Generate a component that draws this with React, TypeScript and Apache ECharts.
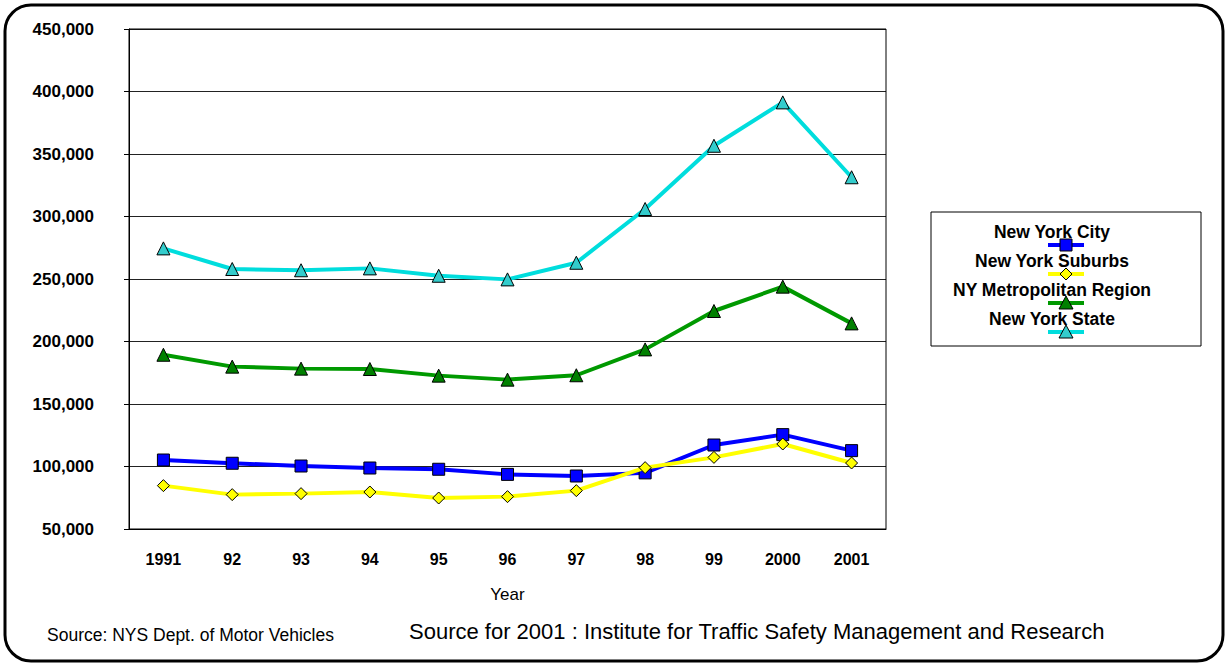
import React, { useEffect, useRef } from "react";
import * as echarts from "echarts";

const categories = ["1991", "92", "93", "94", "95", "96", "97", "98", "99", "2000", "2001"];
const nycValues = [105200, 102600, 100400, 98800, 97800, 93700, 92400, 94900, 117200, 125500, 112700];
const suburbsValues = [84700, 77500, 78300, 79600, 74800, 75900, 80700, 99100, 107300, 118000, 102800];
const metroValues = [189400, 179900, 178300, 178000, 172700, 169500, 173000, 193700, 224400, 243900, 214500];
const stateValues = [274500, 258000, 257000, 258500, 252600, 249700, 263000, 306000, 356600, 391300, 331400];
const seriesNames = ["New York City", "New York Suburbs", "NY Metropolitan Region", "New York State"];

const FONT = "'Liberation Sans', Arial, sans-serif";

export default function App() {
  const ref = useRef<HTMLDivElement>(null);
  useEffect(() => {
    if (!ref.current) return;
    const chart = echarts.init(ref.current, null, { renderer: "svg" });
    const legendX = 1066;
    const legendTextX = 1052;
    const legendRows = [
      { name: seriesNames[0], color: "#0000ff", sym: "rect", fill: "#0000ff" },
      { name: seriesNames[1], color: "#ffff00", sym: "diamond", fill: "#ffff00" },
      { name: seriesNames[2], color: "#009900", sym: "triangle", fill: "#008000" },
      { name: seriesNames[3], color: "#00dddd", sym: "triangle", fill: "#33cccc" },
    ];
    const legendGraphics: any[] = [];
    legendRows.forEach((r, i) => {
      const ty = 232 + i * 29;
      const my = ty + 13;
      legendGraphics.push({
        type: "text",
        z: 110,
        x: legendTextX,
        y: ty,
        style: { text: r.name, fontFamily: FONT, fontWeight: "bold", fontSize: 17.5, fill: "#000", align: "center", verticalAlign: "middle" },
      });
      legendGraphics.push({
        type: "line",
        z: 110,
        shape: { x1: legendX - 18, y1: my, x2: legendX + 18, y2: my },
        style: { stroke: r.color, lineWidth: 4 },
      });
      if (r.sym === "rect") {
        legendGraphics.push({ type: "rect", z: 111, shape: { x: legendX - 6, y: my - 6, width: 12, height: 12 }, style: { fill: r.fill, stroke: "#000", lineWidth: 1 } });
      } else if (r.sym === "diamond") {
        legendGraphics.push({ type: "polygon", z: 111, shape: { points: [[legendX, my - 6], [legendX + 6, my], [legendX, my + 6], [legendX - 6, my]] }, style: { fill: r.fill, stroke: "#000", lineWidth: 1 } });
      } else {
        legendGraphics.push({ type: "polygon", z: 111, shape: { points: [[legendX, my - 7], [legendX + 7, my + 6], [legendX - 7, my + 6]] }, style: { fill: r.fill, stroke: "#000", lineWidth: 1 } });
      }
    });

    const mk = (name: string, data: number[], color: string, symbol: string, fill: string, size: number, z: number) => ({
      name,
      type: "line",
      data,
      z,
      symbol,
      symbolSize: size,
      showAllSymbol: true,
      lineStyle: { color, width: 4 },
      itemStyle: { color: fill, borderColor: "#000", borderWidth: 1 },
      emphasis: { disabled: true },
    });

    chart.setOption({
      animation: false,
      backgroundColor: "#fff",
      grid: { left: 129, right: 342, top: 29, bottom: 137, containLabel: false },
      xAxis: {
        type: "category",
        data: categories,
        boundaryGap: true,
        name: "Year",
        nameLocation: "middle",
        nameGap: 57,
        nameTextStyle: { fontFamily: FONT, fontSize: 17, color: "#000" },
        axisLine: { lineStyle: { color: "#000", width: 1 } },
        axisTick: { show: false },
        axisLabel: { fontFamily: FONT, fontSize: 16, fontWeight: "bold", color: "#000", margin: 22 },
        splitLine: { show: false },
      },
      yAxis: {
        type: "value",
        min: 50000,
        max: 450000,
        interval: 50000,
        axisLine: { show: true, lineStyle: { color: "#000", width: 1 } },
        axisTick: { show: true, length: 5, lineStyle: { color: "#000" } },
        axisLabel: {
          fontFamily: FONT,
          fontSize: 17,
          fontWeight: "bold",
          color: "#000",
          margin: 35,
          formatter: (v: number) => v.toLocaleString("en-US"),
        },
        splitLine: { show: true, lineStyle: { color: "#222", width: 1 } },
      },
      series: [
        mk(seriesNames[3], stateValues, "#00dddd", "triangle", "#33cccc", 13, 2),
        mk(seriesNames[2], metroValues, "#009900", "triangle", "#008000", 13, 3),
        mk(seriesNames[0], nycValues, "#0000ff", "rect", "#0000ff", 12, 4),
        mk(seriesNames[1], suburbsValues, "#ffff00", "diamond", "#ffff00", 12, 5),
      ],
      graphic: [
        {
          type: "rect",
          shape: { x: 5, y: 5, width: 1218, height: 656, r: 26 },
          style: { fill: "none", stroke: "#000", lineWidth: 3 },
          z: 100,
        },
        {
          type: "rect",
          shape: { x: 129, y: 29, width: 757, height: 500 },
          style: { fill: "none", stroke: "#000", lineWidth: 1 },
          z: 100,
        },
        {
          type: "rect",
          shape: { x: 931, y: 212, width: 270, height: 134 },
          style: { fill: "#fff", stroke: "#000", lineWidth: 1 },
          z: 100,
        },
        ...legendGraphics,
        {
          type: "text",
          x: 47,
          y: 635,
          z: 100,
          style: { text: "Source: NYS Dept. of Motor Vehicles", fontFamily: FONT, fontSize: 17.5, fill: "#000", verticalAlign: "middle" },
        },
        {
          type: "text",
          x: 409,
          y: 631,
          z: 100,
          style: { text: "Source for 2001 : Institute for Traffic Safety Management and Research", fontFamily: FONT, fontSize: 22, fill: "#000", verticalAlign: "middle" },
        },
      ],
    });
    return () => chart.dispose();
  }, []);
  return <div ref={ref} style={{ position: "fixed", left: 0, top: 0, width: 1228, height: 666 }} />;
}
